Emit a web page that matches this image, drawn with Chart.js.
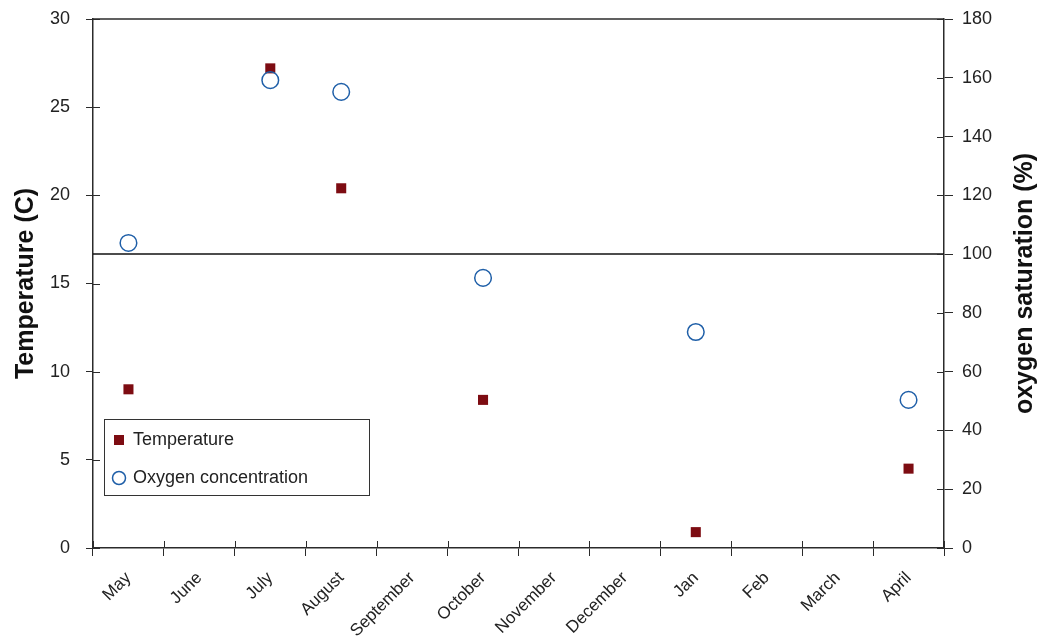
<!DOCTYPE html>
<html>
<head>
<meta charset="utf-8">
<script src="https://cdn.jsdelivr.net/npm/chart.js@4/dist/chart.umd.min.js"></script>
<style>
  html, body { margin: 0; padding: 0; background: #fff; }
  canvas { display: block; }
</style>
</head>
<body>
<canvas id="chart" width="1037" height="639"></canvas>
<script>
// Sampling months (one year, May to April)
const months = ['May', 'June', 'July', 'August', 'September', 'October',
                'November', 'December', 'Jan', 'Feb', 'March', 'April'];
// Water temperature, degrees C (null = no sample that month)
const temperature = [9.0, null, 27.2, 20.4, null, 8.4, null, null, 0.9, null, null, 4.5];
// Dissolved oxygen, % saturation
const oxygenSaturation = [103.8, null, 159.2, 155.2, null, 91.9, null, null, 73.5, null, null, 50.4];
// Axis ranges
const tempAxis = [0, 30, 5];
const oxygenAxis = [0, 180, 20];
// Full-saturation reference level
const saturationLevel = 100;

const FONT = "'Liberation Sans', Arial, sans-serif";
const INK = '#2b2b2b';
const TEMP_COLOR = '#7d0c12';
const OXY_COLOR = '#1f5fa8';

// vertical axes: fixed width and no extra top/bottom padding
function fixVertical(width) {
  return function (s) {
    s.width = width;
    s.paddingTop = 0;
    s.paddingBottom = 0;
  };
}

const framePlugin = {
  id: 'frame',
  afterDraw(chart) {
    const ctx = chart.ctx;
    const a = chart.chartArea;
    const yL = chart.scales.y, yR = chart.scales.y1;
    ctx.save();
    ctx.strokeStyle = INK;
    ctx.lineWidth = 1.5;
    // top frame line
    ctx.beginPath();
    ctx.moveTo(a.left, a.top);
    ctx.lineTo(a.right, a.top);
    ctx.stroke();

    // 100 % saturation line
    const ys = yR.getPixelForValue(saturationLevel);
    ctx.strokeStyle = '#111';
    ctx.beginPath();
    ctx.moveTo(a.left, ys);
    ctx.lineTo(a.right, ys);
    ctx.stroke();

    // inner halves of the tick marks
    ctx.strokeStyle = INK;
    ctx.lineWidth = 1;
    const inner = 7;
    ctx.beginPath();
    yL.ticks.forEach(t => {
      const p = Math.round(yL.getPixelForValue(t.value)) + 0.5;
      ctx.moveTo(a.left, p); ctx.lineTo(a.left + inner, p);
    });
    yR.ticks.forEach(t => {
      const p = Math.round(yR.getPixelForValue(t.value)) + 0.5;
      ctx.moveTo(a.right - inner, p); ctx.lineTo(a.right, p);
    });
    const step = (a.right - a.left) / months.length;
    for (let i = 0; i <= months.length; i++) {
      const p = Math.round(a.left + i * step) + 0.5;
      ctx.moveTo(p, a.bottom - inner); ctx.lineTo(p, a.bottom);
    }
    ctx.stroke();

    // right axis title, reading bottom to top
    ctx.fillStyle = '#111';
    ctx.font = 'bold 25px ' + FONT;
    ctx.textAlign = 'center';
    ctx.textBaseline = 'middle';
    ctx.translate(1025, (a.top + a.bottom) / 2);
    ctx.rotate(-Math.PI / 2);
    ctx.fillText('oxygen saturation (%)', 0, 0);
    ctx.restore();

    // legend box
    ctx.save();
    const lx = a.left + 11, ly = 419, lw = 265, lh = 76;
    ctx.fillStyle = '#fff';
    ctx.fillRect(lx, ly, lw, lh);
    ctx.strokeStyle = '#333';
    ctx.lineWidth = 1;
    ctx.strokeRect(lx + 0.5, ly + 0.5, lw, lh);
    const mx = lx + 15;
    const r1 = ly + 21, r2 = ly + 59;
    ctx.fillStyle = TEMP_COLOR;
    ctx.fillRect(mx - 5, r1 - 5, 10, 10);
    ctx.strokeStyle = OXY_COLOR;
    ctx.lineWidth = 1.5;
    ctx.beginPath();
    ctx.arc(mx, r2, 6.5, 0, Math.PI * 2);
    ctx.stroke();
    ctx.fillStyle = '#222';
    ctx.font = '18px ' + FONT;
    ctx.textAlign = 'left';
    ctx.textBaseline = 'middle';
    ctx.fillText('Temperature', mx + 14, r1);
    ctx.fillText('Oxygen concentration', mx + 14, r2);
    ctx.restore();
  }
};

new Chart(document.getElementById('chart'), {
  type: 'line',
  data: {
    labels: months,
    datasets: [
      {
        label: 'Temperature',
        data: temperature,
        yAxisID: 'y',
        showLine: false,
        pointStyle: 'rect',
        pointRadius: 7.1,
        pointHoverRadius: 7.1,
        backgroundColor: TEMP_COLOR,
        borderColor: TEMP_COLOR,
        pointBorderWidth: 0,
        order: 2
      },
      {
        label: 'Oxygen concentration',
        data: oxygenSaturation,
        yAxisID: 'y1',
        showLine: false,
        pointStyle: 'circle',
        pointRadius: 8.3,
        pointHoverRadius: 8.3,
        backgroundColor: 'rgba(255,255,255,0)',
        borderColor: OXY_COLOR,
        pointBorderWidth: 1.5,
        order: 1
      }
    ]
  },
  options: {
    responsive: false,
    animation: false,
    events: [],
    layout: { padding: { top: 19, left: 0, right: 0, bottom: 0 } },
    plugins: { legend: { display: false }, tooltip: { enabled: false } },
    scales: {
      x: {
        type: 'category',
        offset: true,
        grid: { offset: true, drawOnChartArea: false, drawTicks: true, tickLength: 8, color: INK, lineWidth: 1 },
        border: { display: true, color: INK, width: 1.5 },
        ticks: {
          color: '#222', font: { family: FONT, size: 17 },
          minRotation: 45, maxRotation: 45, autoSkip: false, padding: 12, labelOffset: 0
        },
        afterFit(s) { s.height = 91; s.paddingLeft = 0; s.paddingRight = 0; }
      },
      y: {
        position: 'left',
        min: tempAxis[0], max: tempAxis[1],
        grid: { drawOnChartArea: false, drawTicks: true, tickLength: 7, color: INK, lineWidth: 1 },
        border: { display: true, color: INK, width: 1.5 },
        ticks: { stepSize: tempAxis[2], color: '#222', font: { family: FONT, size: 18 }, padding: 16 },
        title: { display: true, text: 'Temperature (C)', color: '#111',
                 font: { family: FONT, size: 25, weight: 'bold' }, padding: { top: 11, bottom: 0 } },
        afterFit: fixVertical(93)
      },
      y1: {
        position: 'right',
        min: oxygenAxis[0], max: oxygenAxis[1],
        grid: { drawOnChartArea: false, drawTicks: true, tickLength: 9, color: INK, lineWidth: 1 },
        border: { display: true, color: INK, width: 1.5 },
        ticks: { stepSize: oxygenAxis[2], color: '#222', font: { family: FONT, size: 18 }, padding: 9 },
        afterFit: fixVertical(93)
      }
    }
  },
  plugins: [framePlugin]
});
</script>
</body>
</html>
